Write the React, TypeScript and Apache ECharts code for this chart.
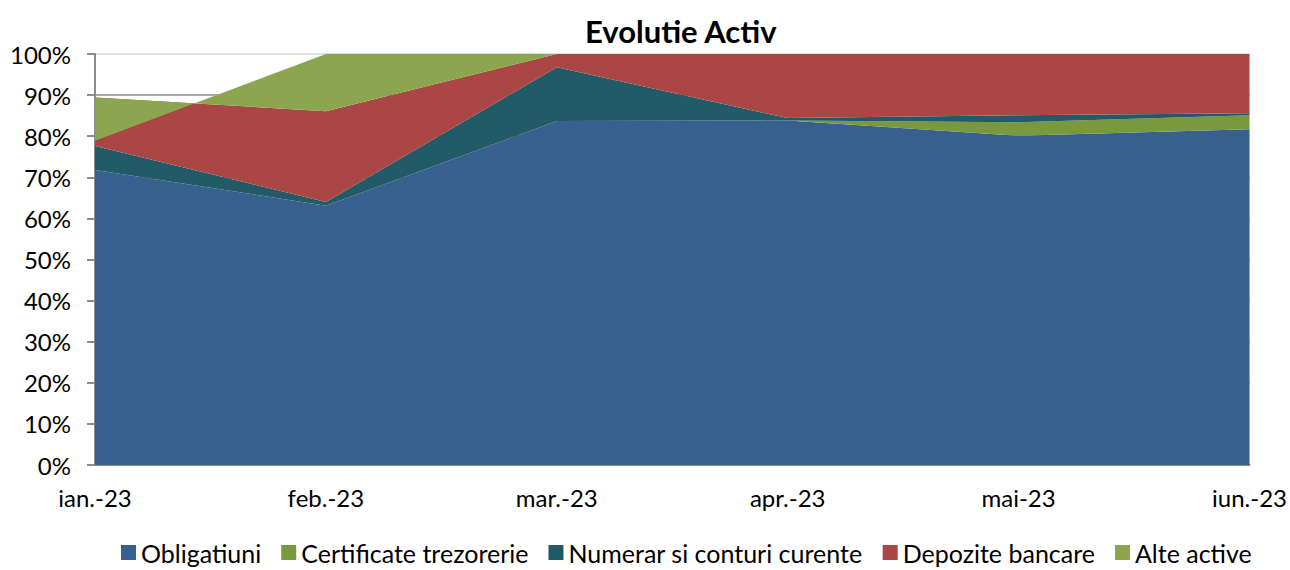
import React, { useEffect, useRef } from "react";
import * as echarts from "echarts";

const categories = ["ian.-23", "feb.-23", "mar.-23", "apr.-23", "mai-23", "iun.-23"];
const obligatiuni = [71.8, 63.1, 83.7, 83.8, 80.1, 81.7];
const certificateTrezorerie = [0, 0, 0, 0, 3.3, 3.4];
const numerar = [5.8, 0.9, 13.1, 0.6, 1.7, 0.5];
const depozite = [11.8, 22.1, 3.2, 15.6, 14.9, 14.4];
const alteActive = [-10.5, 13.9, 0, 0, 0, 0];
const yTicks = [0, 10, 20, 30, 40, 50, 60, 70, 80, 90, 100];

const seriesDefs = [
  { name: "Obligatiuni", data: obligatiuni, color: "#37608F" },
  { name: "Certificate trezorerie", data: certificateTrezorerie, color: "#7A983E" },
  { name: "Numerar si conturi curente", data: numerar, color: "#225A68" },
  { name: "Depozite bancare", data: depozite, color: "#AA4745" },
  { name: "Alte active", data: alteActive, color: "#8BA64E" },
];

const FONT = "Lato, 'Open Sans', sans-serif";

export default function App() {
  const ref = useRef<HTMLDivElement>(null);
  useEffect(() => {
    if (!ref.current) return;
    const chart = echarts.init(ref.current, null, { renderer: "svg" });
    const gridColors = yTicks.map((v) => (v === 100 ? "#d9d9d9" : "#8c8c8c"));
    chart.setOption({
      animation: false,
      backgroundColor: "#ffffff",
      title: {
        text: "Evolutie Activ",
        left: 580,
        top: 10,
        textStyle: { fontFamily: FONT, fontSize: 31, fontWeight: "bold", color: "#000" },
      },
      legend: {
        bottom: 0,
        left: 116,
        itemWidth: 15,
        itemHeight: 15,
        itemGap: 20,
        icon: "rect",
        textStyle: { fontFamily: FONT, fontSize: 25, color: "#000" },
        data: seriesDefs.map((s) => s.name),
      },
      grid: { left: 95, right: 40, top: 54, bottom: 105, containLabel: false },
      xAxis: {
        type: "category",
        data: categories,
        boundaryGap: false,
        axisLine: { lineStyle: { color: "#8c8c8c", width: 2 } },
        axisTick: { show: false },
        axisLabel: { fontFamily: FONT, fontSize: 24, color: "#000", margin: 20 },
        splitLine: { show: false },
      },
      yAxis: {
        type: "value",
        min: 0,
        max: 100,
        interval: 10,
        axisLine: { show: true, lineStyle: { color: "#8c8c8c", width: 2 } },
        axisTick: { show: true, inside: false, length: 8, lineStyle: { color: "#8c8c8c", width: 2 } },
        axisLabel: { fontFamily: FONT, fontSize: 24, color: "#000", margin: 24, formatter: "{value}%" },
        splitLine: { show: true, lineStyle: { color: gridColors, width: 1.5 } },
      },
      series: seriesDefs.map((s) => ({
        name: s.name,
        type: "line",
        stack: "total",
        stackStrategy: "all",
        data: s.data,
        symbol: "none",
        showSymbol: false,
        lineStyle: { width: 0 },
        areaStyle: { color: s.color, opacity: 1 },
        itemStyle: { color: s.color },
        emphasis: { disabled: true },
      })),
    });
    return () => chart.dispose();
  }, []);
  return (
    <div
      ref={ref}
      style={{ position: "fixed", left: 0, top: 0, width: 1290, height: 570 }}
    />
  );
}
